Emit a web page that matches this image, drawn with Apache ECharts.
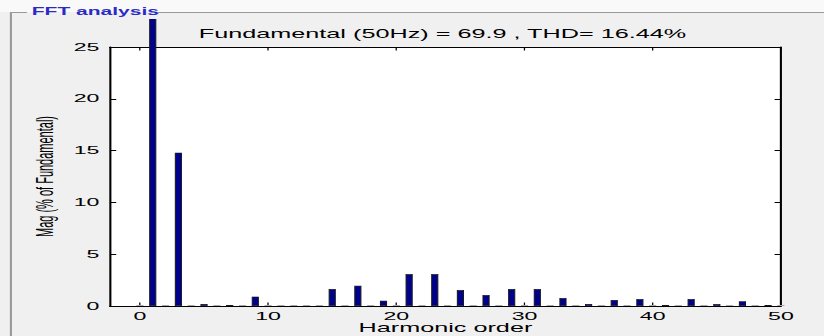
<!DOCTYPE html>
<html>
<head>
<meta charset="utf-8">
<script src="https://cdn.jsdelivr.net/npm/echarts@6/dist/echarts.min.js"></script>
<style>
  html, body { margin: 0; padding: 0; background: #f0f0f0; }
  #wrap { width: 824px; height: 336px; overflow: hidden; position: relative; }
  /* the reference image is stretched sideways, so draw narrow and stretch */
  #main { width: 392px; height: 336px; transform: scaleX(2.102); transform-origin: 0 0; }
</style>
</head>
<body>
<div id="wrap"><div id="main"></div></div>
<script>
// harmonic orders 0..50 and magnitude in % of fundamental
const harmonicOrders = [0, 1, 2, 3, 4, 5, 6, 7, 8, 9, 10, 11, 12, 13, 14, 15, 16, 17, 18, 19, 20,
  21, 22, 23, 24, 25, 26, 27, 28, 29, 30, 31, 32, 33, 34, 35, 36, 37, 38, 39, 40,
  41, 42, 43, 44, 45, 46, 47, 48, 49, 50];
const magnitudes = [0, 100, 0, 14.8, 0, 0.2, 0, 0.1, 0, 0.9, 0, 0.02, 0, 0.02, 0, 1.64, 0, 1.95, 0, 0.5, 0,
  3.08, 0, 3.08, 0, 1.54, 0, 1.06, 0, 1.64, 0, 1.64, 0, 0.77, 0, 0.2, 0, 0.58, 0, 0.67, 0,
  0.1, 0, 0.67, 0, 0.19, 0, 0.45, 0, 0.1, 0];
const xTicks = [0, 10, 20, 30, 40, 50];
const yTicks = [0, 5, 10, 15, 20, 25];

const panelLabel = 'FFT analysis';
const titleText = 'Fundamental (50Hz) = 69.9 , THD= 16.44%';

const font = '"Liberation Sans", Arial, Helvetica, sans-serif';

const chart = echarts.init(document.getElementById('main'), null, { renderer: 'svg' });

const barData = harmonicOrders.map((h, i) => {
  const v = magnitudes[i];
  if (v < 0.05) {
    // near zero bars show only as a grey dash
    return { value: [h, v], itemStyle: { color: '#a8a8a8', borderWidth: 0 } };
  }
  return { value: [h, v] };
});

const boxLine = { show: true, onZero: false, lineStyle: { color: '#000', width: 1 } };

const option = {
  backgroundColor: '#f0f0f0',
  animation: false,
  grid: {
    left: 52.3,
    right: 20.5,
    top: 47,
    bottom: 30,
    containLabel: false,
    outerBoundsMode: 'none',
    show: true,
    backgroundColor: '#ffffff',
    borderWidth: 0
  },
  xAxis: [
    {
      type: 'value',
      min: -2.34,
      max: 50,
      name: 'Harmonic order',
      nameLocation: 'middle',
      nameGap: 16,
      nameMoveOverlap: false,
      nameTextStyle: { fontSize: 12, color: '#000', fontFamily: font },
      axisLine: boxLine,
      splitLine: { show: false },
      axisTick: { show: true, inside: true, length: 3.5, customValues: xTicks, lineStyle: { color: '#000', width: 0.6 } },
      axisLabel: { show: true, customValues: xTicks, margin: 5, fontSize: 11, color: '#000', fontFamily: font }
    },
    {
      type: 'value',
      position: 'top',
      min: -2.34,
      max: 50,
      axisLine: boxLine,
      splitLine: { show: false },
      axisTick: { show: true, inside: true, length: 3.5, customValues: xTicks, lineStyle: { color: '#000', width: 0.6 } },
      axisLabel: { show: false }
    }
  ],
  yAxis: [
    {
      type: 'value',
      min: 0,
      max: 25,
      interval: 5,
      name: 'Mag (% of Fundamental)',
      nameLocation: 'middle',
      nameGap: 25,
      nameMoveOverlap: false,
      nameTextStyle: { fontSize: 11, color: '#000', fontFamily: font },
      axisLine: boxLine,
      splitLine: { show: false },
      axisTick: { show: true, inside: true, length: 3, lineStyle: { color: '#000', width: 1 } },
      axisLabel: { margin: 5, fontSize: 11, color: '#000', fontFamily: font, customValues: yTicks }
    },
    {
      type: 'value',
      position: 'right',
      min: 0,
      max: 25,
      interval: 5,
      axisLine: boxLine,
      splitLine: { show: false },
      axisTick: { show: true, inside: true, length: 3, lineStyle: { color: '#000', width: 1 } },
      axisLabel: { show: false }
    }
  ],
  series: [
    {
      type: 'bar',
      xAxisIndex: 0,
      yAxisIndex: 0,
      data: barData,
      barWidth: 3.4,
      barMinHeight: 1,
      clip: false,
      itemStyle: { color: '#00008f', borderColor: '#1a1a1a', borderWidth: 0.5 }
    }
  ],
  graphic: [
    // cover the top strip where the fundamental bar overflows
    { type: 'rect', z: 100, shape: { x: 0, y: 0, width: 392, height: 12 }, style: { fill: '#f9f9f9' } },
    { type: 'rect', z: 100, shape: { x: 0, y: 12, width: 392, height: 7 }, style: { fill: '#f0f0f0' } },
    // panel frame
    { type: 'line', z: 101, shape: { x1: 4.8, y1: 12.5, x2: 12.8, y2: 12.5 }, style: { stroke: '#9a9a9a', lineWidth: 1 } },
    { type: 'line', z: 101, shape: { x1: 75.2, y1: 12.5, x2: 392, y2: 12.5 }, style: { stroke: '#9a9a9a', lineWidth: 1 } },
    { type: 'line', z: 101, shape: { x1: 5.2, y1: 12.5, x2: 5.2, y2: 336 }, style: { stroke: '#9a9a9a', lineWidth: 1 } },
    {
      type: 'text', z: 102, x: 15.1, y: 6,
      style: { text: panelLabel, fill: '#2b2bc4', fontSize: 10, fontWeight: 'bold', fontFamily: font,
        align: 'left', verticalAlign: 'top', textAlign: 'left', textVerticalAlign: 'top' }
    },
    {
      type: 'text', z: 102, x: 210.5, y: 27.5,
      style: { text: titleText, fill: '#000', fontSize: 12, fontFamily: font,
        align: 'center', verticalAlign: 'top', textAlign: 'center', textVerticalAlign: 'top' }
    }
  ]
};

chart.setOption(option);
</script>
</body>
</html>
